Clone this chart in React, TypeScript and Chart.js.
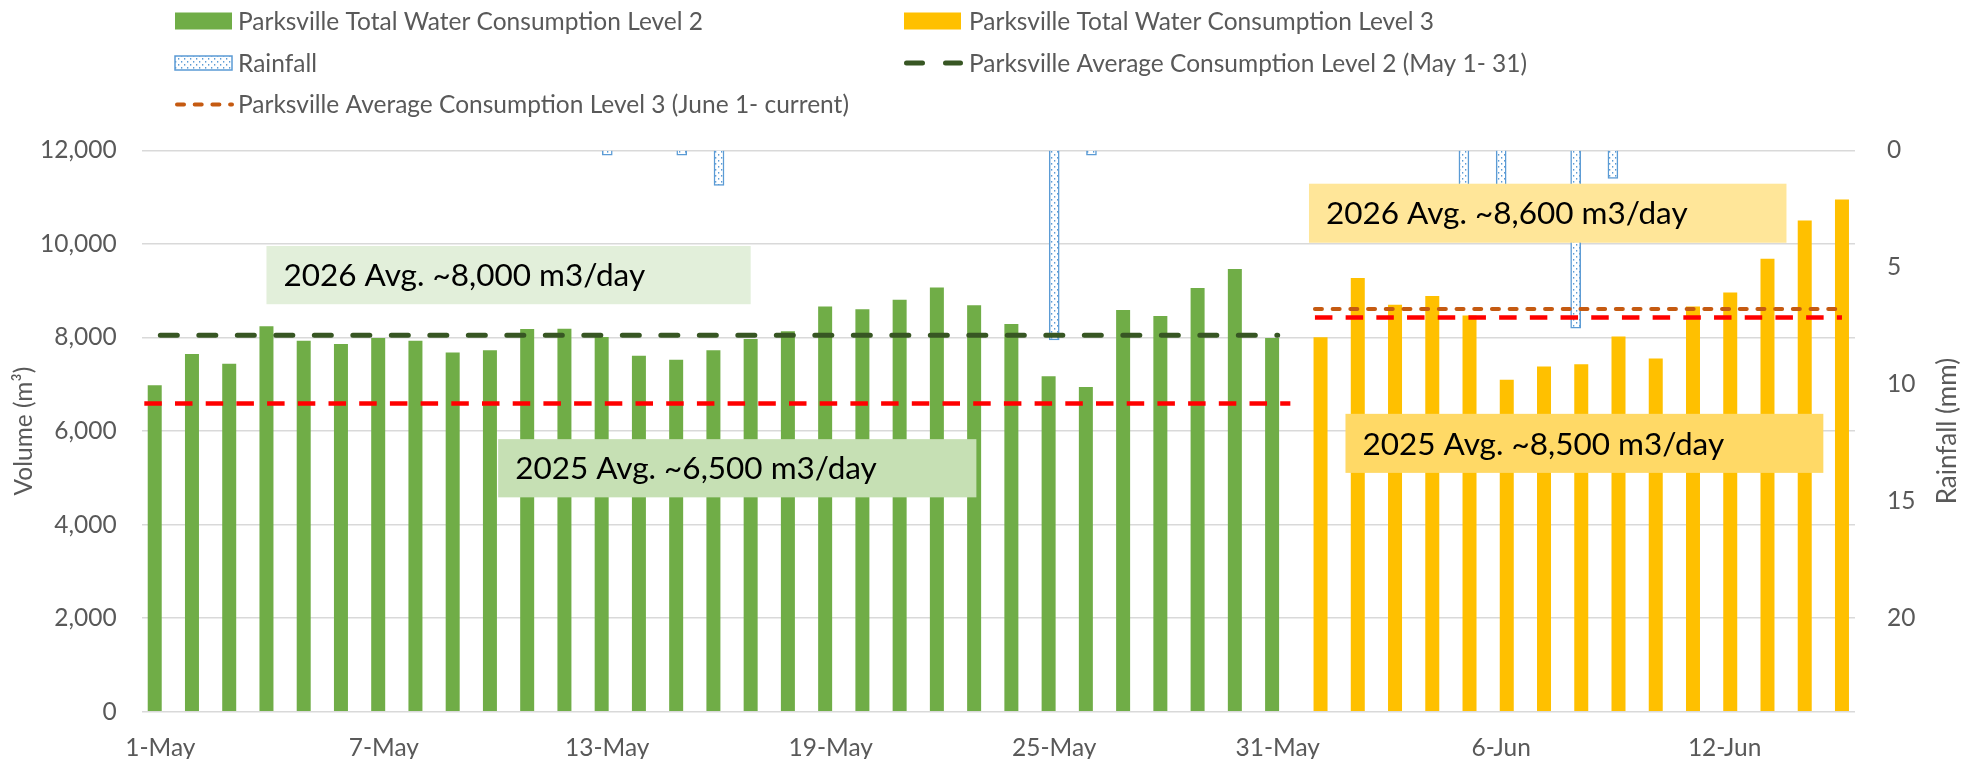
import React, { useEffect, useRef } from 'react';
import { Chart, registerables } from 'chart.js';

Chart.register(...registerables);

// ---------------- DATA ----------------
const categories = [
  '1-May', '2-May', '3-May', '4-May', '5-May', '6-May', '7-May', '8-May', '9-May', '10-May',
  '11-May', '12-May', '13-May', '14-May', '15-May', '16-May', '17-May', '18-May', '19-May', '20-May',
  '21-May', '22-May', '23-May', '24-May', '25-May', '26-May', '27-May', '28-May', '29-May', '30-May',
  '31-May', '1-Jun', '2-Jun', '3-Jun', '4-Jun', '5-Jun', '6-Jun', '7-Jun', '8-Jun', '9-Jun',
  '10-Jun', '11-Jun', '12-Jun', '13-Jun', '14-Jun', '15-Jun',
];

const xTickLabels = ['1-May', '7-May', '13-May', '19-May', '25-May', '31-May', '6-Jun', '12-Jun'];

// Level 2 consumption, May 1 - 31 (m3)
const level2May = [
  6980, 7650, 7440, 8240, 7930, 7860, 7990, 7930, 7680, 7730,
  8180, 8190, 8010, 7610, 7525, 7730, 7970, 8135, 8665, 8605,
  8810, 9070, 8690, 8290, 7175, 6940, 8590, 8460, 9060, 9465,
  7990,
];

// Level 3 consumption, June 1 - 15 (m3)
const level3June = [
  8005, 9275, 8700, 8890, 8470, 7095, 7380, 7430, 8020, 7550,
  8665, 8960, 9685, 10500, 10950,
];

// Rainfall (mm), one entry per category
const rainfall = [
  null, null, null, null, null, null, null, null, null, null,
  null, null, 0.2, null, 0.2, 1.5, null, null, null, null,
  null, null, null, null, 8.1, 0.2, null, null, null, null,
  null, null, null, null, null, 3.0, 2.5, null, 7.6, 1.2,
  null, null, null, null, null, null,
];

const avgLevel2 = 8050; // May 1-31 average
const avgLevel3 = 8610; // June 1 - current average

// 2025 reference averages (red dashed lines) and their category-index extents
const ref2025Values = [6590, 8430];
const ref2025Extents = [
  [-0.43, 30.34],
  [31, 45.15],
];

const volumeTicks = { min: 0, max: 12000, step: 2000 };
const rainTicks = { min: 0, max: 24, step: 5 };

// Text boxes: category-index extent and volume extent
const noteTexts = [
  '2026 Avg. ~8,000 m3/day',
  '2025 Avg. ~6,500 m3/day',
  '2026 Avg. ~8,600 m3/day',
  '2025 Avg. ~8,500 m3/day',
];
const noteColors = ['#E2EFDA', '#C6E0B4', '#FFE699', '#FFD966'];
const noteBoxes = [
  { x0: 2.85, x1: 15.85, yTop: 9957, yBottom: 8712 },
  { x0: 9.07, x1: 21.91, yTop: 5828, yBottom: 4584 },
  { x0: 30.84, x1: 43.66, yTop: 11288, yBottom: 10026 },
  { x0: 31.82, x1: 44.65, yTop: 6369, yBottom: 5107 },
];

// ---------------- STYLE ----------------
const FONT = 'Lato, "Liberation Sans", sans-serif';
const GREY = '#595959';
const GREEN = '#70AD47';
const YELLOW = '#FFC000';
const RAIN_BLUE = '#5B9BD5';
const DARK_GREEN = '#375623';
const ORANGE = '#C55A11';
const RED = '#FF0000';

function makeRainPattern(ctx: CanvasRenderingContext2D) {
  const c = document.createElement('canvas');
  c.width = 6;
  c.height = 6;
  const g = c.getContext('2d')!;
  g.fillStyle = '#ffffff';
  g.fillRect(0, 0, 6, 6);
  g.fillStyle = RAIN_BLUE;
  g.fillRect(1, 1, 1.3, 1.6);
  g.fillRect(4, 4, 1.3, 1.6);
  return ctx.createPattern(c, 'repeat');
}

export default function App() {
  const canvasRef = useRef<HTMLCanvasElement | null>(null);

  useEffect(() => {
    const canvas = canvasRef.current;
    if (!canvas) return;
    const ctx = canvas.getContext('2d')!;
    const rainPattern = makeRainPattern(ctx);

    const nMay = level2May.length;
    const greenData = categories.map((_, i) => (i < nMay ? level2May[i] : null));
    const yellowData = categories.map((_, i) => (i >= nMay ? level3June[i - nMay] : null));
    const avg2Data = categories.map((_, i) => (i < nMay ? avgLevel2 : null));
    const avg3Data = categories.map((_, i) => (i >= nMay ? avgLevel3 : null));

    const overlayPlugin = {
      id: 'overlayPlugin',
      afterDatasetsDraw(chart: any) {
        const c = chart.ctx;
        const xs = chart.scales.x;
        const ys = chart.scales.y;
        c.save();
        // 2025 reference lines
        ref2025Values.forEach((v, i) => {
          const y = ys.getPixelForValue(v);
          c.strokeStyle = RED;
          c.lineWidth = 4.5;
          c.lineCap = 'butt';
          c.setLineDash([17.5, 13.2]);
          c.beginPath();
          c.moveTo(xs.getPixelForValue(ref2025Extents[i][0]), y);
          c.lineTo(xs.getPixelForValue(ref2025Extents[i][1]), y);
          c.stroke();
        });
        c.setLineDash([]);
        // text boxes
        noteBoxes.forEach((b, i) => {
          const left = xs.getPixelForValue(b.x0);
          const right = xs.getPixelForValue(b.x1);
          const top = ys.getPixelForValue(b.yTop);
          const bottom = ys.getPixelForValue(b.yBottom);
          c.fillStyle = noteColors[i];
          c.fillRect(left, top, right - left, bottom - top);
          c.fillStyle = '#000000';
          c.font = `31.5px ${FONT}`;
          c.textAlign = 'left';
          c.textBaseline = 'middle';
          c.fillText(noteTexts[i], left + 17, (top + bottom) / 2 + 1);
        });
        c.restore();
      },
      afterDraw(chart: any) {
        const c = chart.ctx;
        const ds = chart.data.datasets;
        const colX = [175, 904];
        const textX = [238, 969];
        const rowY = [21, 63, 104.5];
        const items = [
          { ds: 0, col: 0, row: 0, kind: 'box', color: GREEN },
          { ds: 2, col: 1, row: 0, kind: 'box', color: YELLOW },
          { ds: 1, col: 0, row: 1, kind: 'rain' },
          { ds: 3, col: 1, row: 1, kind: 'line', color: DARK_GREEN, width: 5, dash: [16, 23] },
          { ds: 4, col: 0, row: 2, kind: 'line', color: ORANGE, width: 4, dash: [7, 10.7] },
        ];
        c.save();
        items.forEach((it: any) => {
          const x = colX[it.col];
          const y = rowY[it.row];
          if (it.kind === 'box') {
            c.fillStyle = it.color;
            c.fillRect(x, y - 8.5, 57, 17);
          } else if (it.kind === 'rain') {
            c.fillStyle = rainPattern;
            c.fillRect(x, y - 7, 57, 14);
            c.strokeStyle = RAIN_BLUE;
            c.lineWidth = 1.5;
            c.strokeRect(x, y - 7, 57, 14);
          } else {
            c.strokeStyle = it.color;
            c.lineWidth = it.width;
            c.lineCap = 'round';
            c.setLineDash(it.dash);
            c.beginPath();
            c.moveTo(x + it.width / 2, y);
            c.lineTo(x + 59 - it.width / 2, y);
            c.stroke();
            c.setLineDash([]);
          }
          c.fillStyle = GREY;
          c.font = `24.5px ${FONT}`;
          c.textAlign = 'left';
          c.textBaseline = 'middle';
          c.fillText(ds[it.ds].label, textX[it.col], y + 1);
        });
        // right axis title, reading bottom-to-top
        const area = chart.chartArea;
        c.translate(1948, (area.top + area.bottom) / 2);
        c.rotate(-Math.PI / 2);
        c.fillStyle = GREY;
        c.font = `26px ${FONT}`;
        c.textAlign = 'center';
        c.textBaseline = 'middle';
        c.fillText('Rainfall (mm)', 0, 0);
        c.restore();
      },
    };

    const chart = new Chart(ctx, {
      type: 'bar',
      data: {
        labels: categories,
        datasets: [
          {
            type: 'bar',
            label: 'Parksville Total Water Consumption Level 2',
            data: greenData,
            backgroundColor: GREEN,
            yAxisID: 'y',
            categoryPercentage: 0.451,
            barPercentage: 2.5,
            order: 2,
          },
          {
            type: 'bar',
            label: 'Rainfall',
            data: rainfall,
            backgroundColor: rainPattern as any,
            borderColor: RAIN_BLUE,
            borderWidth: 1.5,
            yAxisID: 'y2',
            barThickness: 10,
            order: 2,
          },
          {
            type: 'bar',
            label: 'Parksville Total Water Consumption Level 3',
            data: yellowData,
            backgroundColor: YELLOW,
            yAxisID: 'y',
            categoryPercentage: 0.451,
            barPercentage: 2.5,
            order: 2,
          },
          {
            type: 'line',
            label: 'Parksville Average Consumption Level 2 (May 1- 31)',
            data: avg2Data,
            borderColor: DARK_GREEN,
            borderWidth: 5,
            borderDash: [17, 21.5],
            borderCapStyle: 'round',
            pointRadius: 0,
            spanGaps: false,
            yAxisID: 'y',
            order: 1,
          },
          {
            type: 'line',
            label: 'Parksville Average Consumption Level 3 (June 1- current)',
            data: avg3Data,
            borderColor: ORANGE,
            borderWidth: 4,
            borderDash: [7, 10.7],
            borderCapStyle: 'round',
            pointRadius: 0,
            spanGaps: false,
            yAxisID: 'y',
            order: 1,
          },
        ] as any,
      },
      options: {
        responsive: false,
        animation: false,
        layout: { padding: { top: 150.4, left: 0, right: 0, bottom: 0 } },
        plugins: {
          legend: { display: false },
          tooltip: { enabled: false },
        },
        scales: {
          x: {
            type: 'category',
            position: 'bottom',
            offset: true,
            grid: { display: false },
            border: { display: false },
            ticks: {
              autoSkip: false,
              maxRotation: 0,
              minRotation: 0,
              padding: 14,
              color: GREY,
              font: { family: FONT, size: 24.5 },
              callback: (_v: any, i: number) =>
                xTickLabels.includes(categories[i]) ? categories[i] : '',
            },
            afterFit: (s: any) => {
              s.height = 47.2;
            },
          },
          y: {
            type: 'linear',
            position: 'left',
            min: volumeTicks.min,
            max: volumeTicks.max,
            grid: { color: '#D9D9D9', lineWidth: 1.5, drawTicks: false },
            border: { display: false },
            ticks: {
              stepSize: volumeTicks.step,
              padding: 25,
              color: GREY,
              font: { family: FONT, size: 24.5 },
              callback: (v: any) => Number(v).toLocaleString('en-US'),
            },
            title: {
              display: true,
              text: 'Volume (m³)',
              color: GREY,
              font: { family: FONT, size: 24.5 },
              padding: { top: 9, bottom: 0 },
            },
            afterFit: (s: any) => {
              s.width = 141.7;
            },
          },
          y2: {
            type: 'linear',
            position: 'right',
            reverse: true,
            min: rainTicks.min,
            max: rainTicks.max,
            grid: { display: false, drawTicks: false },
            border: { display: false },
            ticks: {
              stepSize: rainTicks.step,
              padding: 32,
              color: GREY,
              font: { family: FONT, size: 24.5 },
              callback: (v: any) => (Number(v) % rainTicks.step === 0 ? String(v) : ''),
            },
            title: { display: false },
            afterFit: (s: any) => {
              s.width = 110;
            },
          },
        },
      } as any,
      plugins: [overlayPlugin],
    });

    return () => {
      chart.destroy();
    };
  }, []);

  return (
    <div style={{ position: 'fixed', left: 0, top: 0, width: 1965, height: 759, background: '#ffffff' }}>
      <canvas ref={canvasRef} width={1965} height={759} style={{ display: 'block' }} />
    </div>
  );
}
